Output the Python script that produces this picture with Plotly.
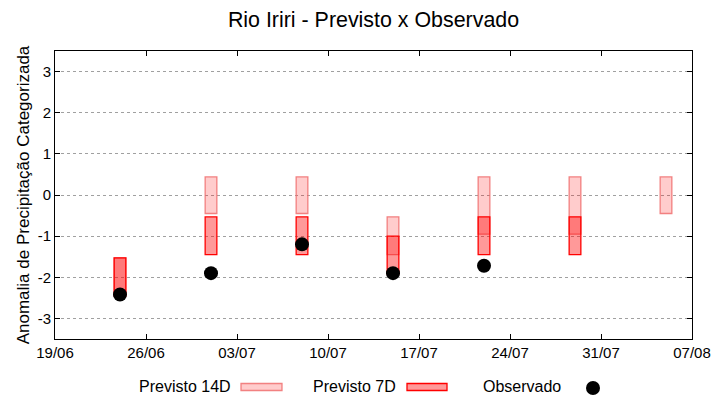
import plotly.graph_objects as go

# ---- data ----
dates = ["2023-06-24", "2023-07-01", "2023-07-08", "2023-07-15",
         "2023-07-22", "2023-07-29", "2023-08-05"]
p14_low = [-2.45, -0.45, -0.45, -1.45, -0.95, -0.95, -0.45]
p14_high = [-1.53, 0.44, 0.44, -0.53, 0.44, 0.44, 0.44]
p7_low = [-2.45, -1.45, -1.45, -1.92, -1.45, -1.45, None]
p7_high = [-1.53, -0.53, -0.53, -1.0, -0.53, -0.53, None]
obs = [-2.42, -1.9, -1.2, -1.9, -1.72, None, None]

x_ticks = ["2023-06-19", "2023-06-26", "2023-07-03", "2023-07-10",
           "2023-07-17", "2023-07-24", "2023-07-31", "2023-08-07"]
x_ticktext = ["19/06", "26/06", "03/07", "10/07", "17/07", "24/07", "31/07", "07/08"]
y_ticks = [-3, -2, -1, 0, 1, 2, 3]
y_ticktext = ["-3", "-2", "-1", "0", "1", "2", "3"]

DAY = 86400000
BAR_W = 0.9 * DAY

FONT = "Liberation Sans, Arial, sans-serif"

C14_FILL = "rgba(255,0,0,0.2)"
C14_LINE = "rgba(240,110,110,0.85)"
C7_FILL = "rgba(255,0,0,0.4)"
C7_LINE = "rgb(255,0,0)"


def span(lows, highs):
    xs, bases, hs = [], [], []
    for d, lo, hi in zip(dates, lows, highs):
        if lo is None or hi is None:
            continue
        xs.append(d)
        bases.append(lo)
        hs.append(hi - lo)
    return xs, bases, hs


fig = go.Figure()

x14, b14, h14 = span(p14_low, p14_high)
fig.add_trace(go.Bar(
    x=x14, y=h14, base=b14, width=[BAR_W] * len(x14), name="Previsto 14D",
    marker=dict(color=C14_FILL, line=dict(color=C14_LINE, width=1.3)),
    showlegend=False, hoverinfo="skip"))

x7, b7, h7 = span(p7_low, p7_high)
fig.add_trace(go.Bar(
    x=x7, y=h7, base=b7, width=[BAR_W] * len(x7), name="Previsto 7D",
    marker=dict(color=C7_FILL, line=dict(color=C7_LINE, width=1.3)),
    showlegend=False, hoverinfo="skip"))

xo = [d for d, v in zip(dates, obs) if v is not None]
yo = [v for v in obs if v is not None]
fig.add_trace(go.Scatter(
    x=xo, y=yo, mode="markers", name="Observado",
    marker=dict(color="black", size=14, line=dict(width=0)),
    showlegend=False))

# ---- page geometry (the page body has an 8px margin) ----
OFF = 8
W, H = 720 - OFF, 400 - OFF
# plot area in page pixels: x 55..692, y 51..339
L, R, T, B = 55 - OFF, 720 - 692, 51 - OFF, 400 - 339
PW, PH = W - L - R, H - T - B


def px(xp):
    return (xp - 55) / PW


def py(yp):
    return (339 - yp) / PH


leg_y = 387
items = [
    ("Previsto 14D", 233, (241, 282), C14_FILL, C14_LINE),
    ("Previsto 7D", 398, (407, 447), C7_FILL, C7_LINE),
]
for text, tx, (x0, x1), fc, lc in items:
    fig.add_annotation(x=px(tx), y=py(leg_y - 1), xref="paper", yref="paper",
                       text=text, showarrow=False, xanchor="right", yanchor="middle",
                       font=dict(size=16, color="black", family=FONT))
    fig.add_shape(type="rect", xref="paper", yref="paper",
                  x0=px(x0), x1=px(x1), y0=py(leg_y + 3.5), y1=py(leg_y - 3.5),
                  fillcolor=fc, line=dict(color=lc, width=1.3))
fig.add_annotation(x=px(563), y=py(leg_y - 1), xref="paper", yref="paper",
                   text="Observado", showarrow=False, xanchor="right", yanchor="middle",
                   font=dict(size=16, color="black", family=FONT))
fig.add_shape(type="circle", xref="paper", yref="paper",
              x0=px(593 - 7), x1=px(593 + 7), y0=py(leg_y + 1 + 7), y1=py(leg_y + 1 - 7),
              fillcolor="black", line=dict(width=0))

fig.update_layout(
    width=W, height=H,
    margin=dict(l=L, r=R, t=T, b=B, autoexpand=False),
    paper_bgcolor="white", plot_bgcolor="white",
    barmode="overlay",
    font=dict(family=FONT, color="black", size=15),
    title=dict(text="Rio Iriri - Previsto x Observado",
               x=(L + PW / 2) / W, xanchor="center",
               y=1 - (20 - OFF) / H, yanchor="middle",
               font=dict(size=21.4, color="black", family=FONT)),
    xaxis=dict(type="date", range=["2023-06-19", "2023-08-07"],
               tickvals=x_ticks, ticktext=x_ticktext,
               ticks="inside", ticklen=5, tickcolor="black",
               showline=True, linecolor="black", linewidth=1, mirror="ticks",
               showgrid=False, zeroline=False,
               tickfont=dict(size=15, color="black", family=FONT)),
    yaxis=dict(range=[-3.5, 3.5], tickvals=y_ticks, ticktext=y_ticktext,
               ticks="inside", ticklen=5, tickcolor="black",
               showline=True, linecolor="black", linewidth=1, mirror="ticks",
               showgrid=True, gridcolor="#a0a0a0", griddash="3px,3px", gridwidth=1,
               zeroline=False,
               tickfont=dict(size=15, color="black", family=FONT),
               title=dict(text="Anomalia de Precipitação Categorizada", standoff=3,
                          font=dict(size=17, color="black", family=FONT))),
)

fig.write_html("out.html")
